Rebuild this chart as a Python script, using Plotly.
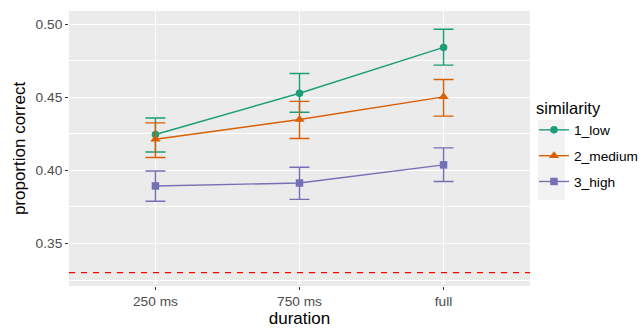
import plotly.graph_objects as go

durations = ["250 ms", "750 ms", "full"]
groups = ["1_low", "2_medium", "3_high"]
means = {
    "1_low":    [0.4245, 0.4527, 0.4840],
    "2_medium": [0.4212, 0.4347, 0.4502],
    "3_high":   [0.3893, 0.3913, 0.4037],
}
upper = {
    "1_low":    [0.4358, 0.4662, 0.4964],
    "2_medium": [0.4324, 0.4471, 0.4621],
    "3_high":   [0.3995, 0.4021, 0.4153],
}
lower = {
    "1_low":    [0.4125, 0.4397, 0.4719],
    "2_medium": [0.4087, 0.4217, 0.4370],
    "3_high":   [0.3788, 0.3801, 0.3923],
}
chance = 0.33

colors = {"1_low": "#1B9E77", "2_medium": "#D95F02", "3_high": "#7570B3"}
symbols = {"1_low": "circle", "2_medium": "triangle-up", "3_high": "square"}
msize = {"1_low": 7.5, "2_medium": 9, "3_high": 7.5}

fig = go.Figure()
for g in groups:
    m = means[g]
    fig.add_trace(go.Scatter(
        x=durations, y=m, name=g, mode="lines+markers", legendgroup=g,
        line=dict(color=colors[g], width=1.4),
        marker=dict(color=colors[g], symbol=symbols[g], size=msize[g]),
        error_y=dict(type="data", symmetric=False,
                     array=[u - v for u, v in zip(upper[g], m)],
                     arrayminus=[v - l for v, l in zip(m, lower[g])],
                     color=colors[g], thickness=1.4, width=10),
    ))

fig.add_hline(y=chance, line=dict(color="#FF0000", width=1.3, dash="6px,6px"))

W, H = 644, 329
L, R, T, B = 69, 114, 11, 43
pw, ph = W - L - R, H - T - B

# legend key background
fig.add_shape(type="rect", xref="paper", yref="paper",
              x0=(538 - L) / pw, x1=(565 - L) / pw,
              y0=(H - B - 200) / ph, y1=(H - B - 120) / ph,
              fillcolor="#F2F2F2", line=dict(width=0), layer="below")

fig.update_layout(
    width=W, height=H,
    margin=dict(l=L, r=R, t=T, b=B, autoexpand=False),
    paper_bgcolor="white", plot_bgcolor="#EBEBEB",
    font=dict(family="Liberation Sans, Arial", color="#4D4D4D", size=13.7),
    legend=dict(title=dict(text="similarity", font=dict(size=16.5, color="black")),
                font=dict(size=13.7, color="black"),
                x=(534 - L) / pw, xanchor="left",
                y=(H - B - 93) / ph, yanchor="top",
                bgcolor="rgba(0,0,0,0)", itemwidth=30, tracegroupgap=5),
    showlegend=True,
)
fig.update_xaxes(
    type="category", range=[-0.6, 2.6],
    showgrid=True, gridcolor="white", gridwidth=1.3,
    ticks="outside", ticklen=3, tickcolor="#333333", tickwidth=1,
    tickfont=dict(size=13.7, color="#4D4D4D"),
    title=dict(text="duration", font=dict(size=17, color="black"), standoff=3),
    zeroline=False, showline=False,
)
fig.update_yaxes(
    range=[0.3209, 0.5089],
    tickvals=[0.35, 0.40, 0.45, 0.50], ticktext=["0.35", "0.40", "0.45", "0.50"],
    showgrid=True, gridcolor="white", gridwidth=1.3,
    minor=dict(tickvals=[0.325, 0.375, 0.425, 0.475], showgrid=True,
               gridcolor="white", gridwidth=0.6, ticks=""),
    ticks="outside", ticklen=3, tickcolor="#333333", tickwidth=1,
    tickfont=dict(size=13.7, color="#4D4D4D"),
    title=dict(text="proportion correct", font=dict(size=17, color="black"), standoff=5),
    zeroline=False, showline=False,
)

fig.write_html("out.html")
